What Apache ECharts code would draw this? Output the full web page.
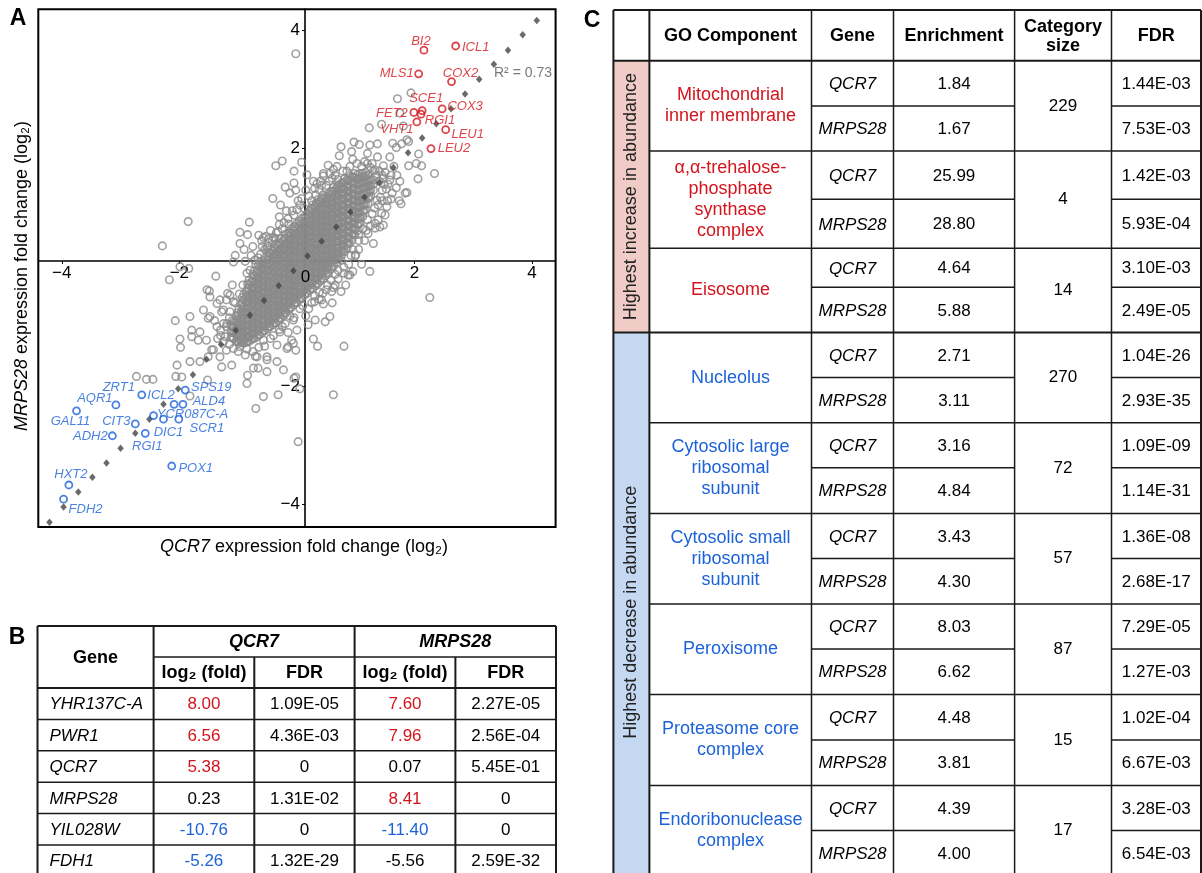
<!DOCTYPE html>
<html>
<head>
<meta charset="utf-8">
<title>QCR7 vs MRPS28 expression</title>
<script src="https://cdn.jsdelivr.net/npm/echarts@6.0.0/dist/echarts.min.js"></script>
<style>
html, body { margin: 0; padding: 0; background: #fff; }
#main { width: 1202px; height: 873px; }
</style>
</head>
<body>
<div id="main"></div>
<script>
// ---- panel A data (log2 fold change, QCR7 on x, MRPS28 on y) ----
// dense core, read column by column: [QCR7, [MRPS28 values]]
var coreColumns = [
    [-1.12, [-1.17, -1.07, -0.98]],
    [-1.075, [-1.2, -1.11, -1.02, -0.92]],
    [-1.03, [-1.24, -1.13, -1.04, -0.93, -0.82]],
    [-0.99, [-1.27, -1.2, -1.1, -1.01, -0.91, -0.81, -0.71]],
    [-0.95, [-1.25, -1.16, -1.06, -0.97, -0.86, -0.76, -0.63]],
    [-0.905, [-1.28, -1.22, -1.13, -1.03, -0.94, -0.85, -0.75, -0.66, -0.55, -0.46]],
    [-0.86, [-1.26, -1.18, -1.08, -0.99, -0.9, -0.8, -0.71, -0.6, -0.5, -0.41]],
    [-0.815, [-1.25, -1.17, -1.08, -0.98, -0.89, -0.79, -0.69, -0.59, -0.5, -0.4, -0.3, -0.22]],
    [-0.77, [-1.22, -1.12, -1.03, -0.94, -0.84, -0.74, -0.64, -0.55, -0.44, -0.35, -0.25]],
    [-0.725, [-1.2, -1.12, -1.03, -0.94, -0.84, -0.74, -0.64, -0.55, -0.45, -0.36, -0.25, -0.15, -0.06]],
    [-0.68, [-1.17, -1.08, -0.98, -0.89, -0.79, -0.69, -0.6, -0.5, -0.41, -0.3, -0.2, -0.1]],
    [-0.635, [-1.14, -1.05, -0.96, -0.86, -0.77, -0.67, -0.57, -0.48, -0.38, -0.28, -0.19, -0.09, 0.01, 0.09]],
    [-0.59, [-1.1, -1.0, -0.91, -0.81, -0.72, -0.62, -0.52, -0.43, -0.33, -0.24, -0.14, -0.04, 0.06]],
    [-0.545, [-1.07, -0.99, -0.9, -0.8, -0.71, -0.61, -0.52, -0.42, -0.33, -0.23, -0.13, -0.03, 0.07, 0.16]],
    [-0.5, [-1.04, -0.95, -0.85, -0.76, -0.66, -0.57, -0.47, -0.38, -0.28, -0.18, -0.08, 0.02, 0.12]],
    [-0.455, [-1.0, -0.92, -0.83, -0.73, -0.64, -0.54, -0.45, -0.35, -0.25, -0.16, -0.06, 0.04, 0.14, 0.23, 0.3]],
    [-0.41, [-0.97, -0.88, -0.78, -0.69, -0.59, -0.5, -0.4, -0.3, -0.21, -0.11, -0.01, 0.09, 0.18, 0.28]],
    [-0.365, [-0.94, -0.85, -0.75, -0.66, -0.56, -0.47, -0.37, -0.28, -0.18, -0.08, 0.01, 0.11, 0.21, 0.31, 0.39]],
    [-0.32, [-0.9, -0.8, -0.71, -0.61, -0.52, -0.42, -0.33, -0.23, -0.13, -0.04, 0.06, 0.16, 0.26, 0.36]],
    [-0.275, [-0.86, -0.77, -0.67, -0.58, -0.48, -0.39, -0.29, -0.19, -0.1, 0.0, 0.1, 0.2, 0.29, 0.39, 0.48]],
    [-0.23, [-0.81, -0.72, -0.62, -0.53, -0.43, -0.34, -0.24, -0.14, -0.05, 0.05, 0.15, 0.24, 0.34, 0.44]],
    [-0.185, [-0.77, -0.68, -0.58, -0.49, -0.39, -0.3, -0.2, -0.1, -0.01, 0.09, 0.19, 0.29, 0.38, 0.48, 0.56]],
    [-0.14, [-0.72, -0.63, -0.53, -0.44, -0.34, -0.25, -0.15, -0.05, 0.04, 0.14, 0.24, 0.33, 0.43, 0.52, 0.58]],
    [-0.095, [-0.68, -0.59, -0.49, -0.4, -0.3, -0.21, -0.11, -0.01, 0.09, 0.18, 0.28, 0.38, 0.47, 0.57, 0.65]],
    [-0.05, [-0.63, -0.54, -0.44, -0.35, -0.25, -0.16, -0.06, 0.04, 0.13, 0.23, 0.33, 0.42, 0.52, 0.61, 0.69]],
    [-0.005, [-0.6, -0.51, -0.41, -0.32, -0.22, -0.13, -0.03, 0.07, 0.17, 0.26, 0.36, 0.46, 0.55, 0.65, 0.74]],
    [0.04, [-0.55, -0.46, -0.36, -0.27, -0.17, -0.08, 0.02, 0.12, 0.21, 0.31, 0.41, 0.5, 0.6, 0.69, 0.78]],
    [0.085, [-0.52, -0.43, -0.33, -0.24, -0.14, -0.05, 0.05, 0.15, 0.25, 0.34, 0.44, 0.54, 0.63, 0.73, 0.82]],
    [0.13, [-0.47, -0.38, -0.28, -0.19, -0.09, 0.0, 0.1, 0.2, 0.29, 0.39, 0.49, 0.58, 0.68, 0.77, 0.86]],
    [0.175, [-0.44, -0.35, -0.25, -0.16, -0.06, 0.04, 0.13, 0.23, 0.33, 0.42, 0.52, 0.62, 0.71, 0.81, 0.9]],
    [0.22, [-0.39, -0.3, -0.2, -0.11, -0.01, 0.08, 0.18, 0.28, 0.37, 0.47, 0.57, 0.66, 0.76, 0.85, 0.95]],
    [0.265, [-0.36, -0.27, -0.17, -0.08, 0.02, 0.12, 0.21, 0.31, 0.41, 0.5, 0.6, 0.7, 0.79, 0.89, 0.98, 1.05]],
    [0.31, [-0.31, -0.22, -0.12, -0.03, 0.07, 0.16, 0.26, 0.36, 0.45, 0.55, 0.65, 0.74, 0.84, 0.93, 1.03]],
    [0.355, [-0.28, -0.19, -0.09, 0.0, 0.1, 0.2, 0.29, 0.39, 0.49, 0.58, 0.68, 0.78, 0.87, 0.97, 1.06, 1.14]],
    [0.4, [-0.23, -0.14, -0.04, 0.05, 0.15, 0.24, 0.34, 0.44, 0.53, 0.63, 0.73, 0.82, 0.92, 1.01, 1.11]],
    [0.445, [-0.2, -0.1, 0.0, 0.09, 0.19, 0.29, 0.38, 0.48, 0.58, 0.67, 0.77, 0.87, 0.96, 1.06, 1.15, 1.22]],
    [0.49, [-0.14, -0.05, 0.05, 0.14, 0.24, 0.33, 0.43, 0.53, 0.62, 0.72, 0.82, 0.91, 1.01, 1.1, 1.19]],
    [0.535, [-0.1, 0.0, 0.1, 0.19, 0.29, 0.39, 0.48, 0.58, 0.68, 0.77, 0.87, 0.97, 1.06, 1.16, 1.24]],
    [0.58, [-0.03, 0.07, 0.16, 0.26, 0.35, 0.45, 0.55, 0.64, 0.74, 0.84, 0.93, 1.03, 1.12, 1.21, 1.28]],
    [0.625, [0.02, 0.12, 0.22, 0.31, 0.41, 0.51, 0.6, 0.7, 0.8, 0.89, 0.99, 1.09, 1.18, 1.28, 1.35]],
    [0.67, [0.08, 0.18, 0.27, 0.37, 0.46, 0.56, 0.66, 0.75, 0.85, 0.95, 1.04, 1.14, 1.23, 1.33]],
    [0.715, [0.14, 0.24, 0.33, 0.43, 0.53, 0.62, 0.72, 0.82, 0.91, 1.01, 1.11, 1.2, 1.3, 1.39]],
    [0.76, [0.2, 0.29, 0.39, 0.48, 0.58, 0.68, 0.77, 0.87, 0.97, 1.06, 1.16, 1.25, 1.35, 1.42]],
    [0.805, [0.26, 0.36, 0.45, 0.55, 0.65, 0.74, 0.84, 0.94, 1.03, 1.13, 1.23, 1.32, 1.42, 1.49]],
    [0.85, [0.32, 0.41, 0.51, 0.6, 0.7, 0.8, 0.89, 0.99, 1.09, 1.18, 1.28, 1.37, 1.47]],
    [0.895, [0.4, 0.49, 0.59, 0.69, 0.78, 0.88, 0.98, 1.07, 1.17, 1.27, 1.36, 1.46, 1.54]],
    [0.94, [0.46, 0.55, 0.65, 0.74, 0.84, 0.94, 1.03, 1.13, 1.23, 1.32, 1.42, 1.52]],
    [0.985, [0.55, 0.64, 0.74, 0.84, 0.93, 1.03, 1.13, 1.22, 1.32, 1.42, 1.51, 1.58]],
    [1.03, [0.62, 0.71, 0.81, 0.9, 1.0, 1.1, 1.19, 1.29, 1.39, 1.48, 1.56]],
    [1.075, [0.74, 0.83, 0.93, 1.03, 1.12, 1.22, 1.32, 1.41, 1.5, 1.58]],
    [1.12, [0.85, 0.94, 1.04, 1.14, 1.23, 1.33, 1.43, 1.52, 1.58]],
    [1.165, [0.97, 1.06, 1.16, 1.26, 1.35, 1.45, 1.54, 1.6]],
    [1.21, [1.07, 1.16, 1.26, 1.36, 1.45, 1.55]],
    [1.255, [1.2, 1.3, 1.39, 1.48]],
    [1.3, [1.3, 1.4, 1.47]],
    // second pass over the same blob, between the columns above
    [-1.10, [-1.19, -1.1, -1.0, -0.9]],
    [-1.01, [-1.25, -1.16, -1.06, -0.97, -0.87, -0.77]],
    [-0.93, [-1.27, -1.19, -1.09, -1.0, -0.9, -0.8, -0.7, -0.6, -0.51]],
    [-0.84, [-1.24, -1.15, -1.05, -0.96, -0.86, -0.76, -0.66, -0.56, -0.46, -0.36, -0.28]],
    [-0.75, [-1.19, -1.09, -1.0, -0.9, -0.8, -0.7, -0.6, -0.5, -0.4, -0.31, -0.21, -0.12]],
    [-0.66, [-1.13, -1.03, -0.94, -0.84, -0.74, -0.64, -0.55, -0.45, -0.35, -0.25, -0.15, -0.05, 0.04]],
    [-0.57, [-1.06, -0.97, -0.87, -0.77, -0.68, -0.58, -0.48, -0.39, -0.29, -0.19, -0.09, 0.01, 0.11]],
    [-0.48, [-1.0, -0.9, -0.81, -0.71, -0.61, -0.52, -0.42, -0.32, -0.23, -0.13, -0.03, 0.07, 0.17, 0.25]],
    [-0.39, [-0.93, -0.83, -0.74, -0.64, -0.54, -0.45, -0.35, -0.25, -0.16, -0.06, 0.04, 0.14, 0.23, 0.33]],
    [-0.30, [-0.85, -0.75, -0.66, -0.56, -0.46, -0.37, -0.27, -0.17, -0.08, 0.02, 0.12, 0.22, 0.31, 0.41]],
    [-0.21, [-0.77, -0.67, -0.58, -0.48, -0.38, -0.29, -0.19, -0.09, 0.0, 0.1, 0.2, 0.3, 0.39, 0.49]],
    [-0.12, [-0.68, -0.58, -0.49, -0.39, -0.29, -0.2, -0.1, 0.0, 0.09, 0.19, 0.29, 0.39, 0.48, 0.58]],
    [-0.03, [-0.59, -0.5, -0.4, -0.3, -0.21, -0.11, -0.01, 0.08, 0.18, 0.28, 0.38, 0.47, 0.57, 0.67]],
    [0.06, [-0.51, -0.42, -0.32, -0.22, -0.13, -0.03, 0.07, 0.16, 0.26, 0.36, 0.46, 0.55, 0.65, 0.75]],
    [0.15, [-0.43, -0.34, -0.24, -0.14, -0.05, 0.05, 0.15, 0.24, 0.34, 0.44, 0.54, 0.63, 0.73, 0.83]],
    [0.24, [-0.35, -0.26, -0.16, -0.06, 0.03, 0.13, 0.23, 0.32, 0.42, 0.52, 0.62, 0.71, 0.81, 0.91, 0.99]],
    [0.33, [-0.27, -0.18, -0.08, 0.02, 0.11, 0.21, 0.31, 0.4, 0.5, 0.6, 0.7, 0.79, 0.89, 0.99, 1.08]],
    [0.42, [-0.18, -0.09, 0.01, 0.11, 0.2, 0.3, 0.4, 0.49, 0.59, 0.69, 0.79, 0.88, 0.98, 1.08, 1.16]],
    [0.51, [-0.09, 0.0, 0.1, 0.2, 0.29, 0.39, 0.49, 0.58, 0.68, 0.78, 0.88, 0.97, 1.07, 1.17]],
    [0.60, [0.02, 0.12, 0.21, 0.31, 0.41, 0.5, 0.6, 0.7, 0.79, 0.89, 0.99, 1.08, 1.18, 1.27]],
    [0.69, [0.14, 0.24, 0.33, 0.43, 0.53, 0.62, 0.72, 0.82, 0.91, 1.01, 1.11, 1.2, 1.3, 1.37]],
    [0.78, [0.27, 0.37, 0.46, 0.56, 0.66, 0.75, 0.85, 0.95, 1.04, 1.14, 1.24, 1.33, 1.42]],
    [0.87, [0.41, 0.51, 0.6, 0.7, 0.8, 0.89, 0.99, 1.09, 1.18, 1.28, 1.38, 1.47]],
    [0.96, [0.56, 0.66, 0.75, 0.85, 0.95, 1.04, 1.14, 1.24, 1.33, 1.43, 1.52]],
    [1.05, [0.73, 0.83, 0.92, 1.02, 1.12, 1.21, 1.31, 1.41, 1.5]],
    [1.14, [0.95, 1.05, 1.14, 1.24, 1.34, 1.43, 1.52]],
    [1.23, [1.18, 1.28, 1.37, 1.46]]
];

// scattered genes around the core: [QCR7, MRPS28]
var outerGenes = [
    [-0.02, 3.60], [-0.36, 1.71], [-0.25, 1.79], [-0.05, 1.62], [-0.05, 1.42], [-0.41, 1.16],
    [-1.85, 0.77], [-2.29, 0.36], [-0.81, 0.76], [-0.97, 0.59], [-0.84, 0.55], [-0.97, 0.40],
    [-0.65, 0.54], [-0.57, 0.50], [-0.59, 0.35], [-0.51, 0.32], [-0.37, 0.48], [-0.22, 0.75],
    [-0.14, 0.73], [-1.05, 0.20], [-1.08, 0.09], [-0.66, 0.16], [-1.99, 0.01], [-1.84, -0.02],
    [1.94, 2.94], [1.71, 2.84], [1.75, 2.60], [1.81, 2.38], [1.23, 2.35], [1.44, 2.41],
    [1.90, 2.12], [1.78, 2.08], [1.69, 2.02], [1.37, 2.08], [1.24, 2.06], [1.06, 2.07],
    [0.97, 2.11], [0.75, 2.03], [0.72, 1.88], [0.93, 1.95], [1.20, 1.92], [1.37, 1.86],
    [1.58, 1.86], [2.07, 1.91], [2.03, 1.75], [2.12, 1.71], [1.90, 1.71], [2.34, 1.58],
    [2.06, 1.49], [1.84, 1.25], [1.74, 1.12], [1.77, 1.07], [1.52, 1.32], [1.69, 1.34],
    [1.58, 1.47], [1.47, 1.50], [1.33, 1.64], [1.47, 1.71], [0.68, 1.70], [0.56, 1.58],
    [0.45, 1.58], [0.34, 1.41], [0.17, 1.56], [1.36, 1.13], [1.53, 1.02], [1.50, 0.88],
    [1.33, 0.74], [1.33, 0.66], [1.38, 0.80], [1.21, 0.57], [1.00, 0.21], [1.44, 0.91],
    [0.08, 1.77], [0.08, 1.16], [0.00, 0.97], [0.30, 1.33], [0.45, 1.54], [0.53, 1.72],
    [1.63, 2.09], [1.87, 2.15], [1.87, 1.26], [1.54, 1.12], [1.47, 0.71], [1.41, 0.68],
    [0.99, 0.19], [1.24, -0.07], [0.90, -0.13], [0.75, -0.41], [0.59, -0.41], [0.44, -0.44],
    [0.38, -0.54], [0.56, -0.83], [0.48, -0.92], [0.31, -0.89], [2.26, -0.51], [0.28, -1.21],
    [0.35, -1.33], [0.80, -1.33], [0.62, -2.15], [0.05, -2.05], [-0.02, -1.85], [-0.32, -2.15],
    [-0.57, -2.18], [-0.70, -2.38], [-0.85, -1.96], [-0.84, -1.82], [-0.51, -1.76], [-0.66, -1.70],
    [-0.15, -1.34], [-0.34, -1.31], [-0.51, -1.51], [-0.71, -1.50], [-1.11, -1.65], [-1.28, -1.68],
    [-1.31, -1.51], [-1.45, -1.39], [-1.51, -1.51], [-1.68, -1.23], [-1.79, -1.06], [-2.07, -0.90],
    [-1.99, -1.21], [-1.98, -1.35], [-2.04, -1.65], [-1.82, -1.59], [-1.96, -1.85], [-2.45, -1.89],
    [-1.52, -1.90], [-1.49, -0.40], [-1.48, -0.50], [-1.18, -0.44], [-1.36, -0.61], [-1.28, -0.75],
    [-1.51, -0.86], [-1.30, -1.06], [-1.22, -1.17], [-2.17, -0.21], [-1.38, -0.15], [-0.53, 0.52],
    [-2.73, -1.84], [-2.56, -1.89], [-2.06, -1.84], [-1.82, -2.17], [0.02, -2.94], [-1.65, -1.59],
    [0.95, -0.07], [0.87, -0.13], [0.62, -0.34], [0.83, -0.30], [0.45, -0.62], [0.30, -0.58],
    [0.19, -0.97], [-0.02, -1.40], [-0.06, -1.28], [-0.05, -1.87], [-1.53, -0.38], [-1.14, -0.47],
    [-1.08, -0.58], [-1.14, -0.75], [-0.09, -1.23], [-0.17, -1.37], [-0.57, -1.23], [-0.97, -1.34],
    [-1.08, -1.37], [-0.88, -1.48], [-0.68, -1.51], [-0.51, -1.56], [-0.34, -1.59], [-0.74, -1.70],
    [-0.23, -1.73], [-0.29, -1.09], [-0.20, -0.95], [-0.06, -0.89], [0.00, -1.06], [-1.42, -1.39],
    [-1.65, -1.09], [-1.54, -1.23], [-1.36, -1.00], [-1.19, -0.95], [-1.48, -0.83], [-1.25, -0.72],
    [-1.31, -0.55], [-1.59, -0.72], [-1.82, -0.83], [-1.79, -1.17], [-0.75, 0.35], [-0.45, 0.62],
    [-0.30, 0.85], [-0.18, 0.95], [-0.28, 1.05], [-0.12, 1.25], [-0.60, 0.45], [-0.90, 0.30],
    [-0.20, 1.35], [0.70, -0.20], [1.05, 0.30], [1.15, 0.45], [1.10, 0.05], [1.30, 0.40],
    [0.60, -0.60], [0.20, -0.70], [-0.85, -0.10], [-0.72, 0.12], [-0.55, 0.30], [-0.42, 0.45],
    [-0.32, 0.60], [-0.08, 0.95], [0.05, 1.05], [0.20, 1.20], [0.32, 1.22], [0.42, 1.38],
    [0.60, 1.50], [0.78, 1.62], [0.90, 1.70], [1.02, 1.75], [1.15, 1.78], [1.28, 1.75],
    [-0.65, -1.35], [-0.45, -1.20], [-0.30, -1.05], [-0.12, -0.82], [0.05, -0.70], [0.25, -0.60],
    [0.38, -0.42], [0.52, -0.30], [0.65, -0.12], [0.80, 0.00], [0.92, 0.20], [1.05, 0.45],
    [1.18, 0.62], [1.28, 0.90], [1.38, 1.05], [1.45, 1.30],
    [-1.05, -0.60], [-0.98, -0.45], [-0.92, -0.30], [-0.80, -0.05], [-0.70, 0.05], [-0.62, 0.22],
    [-0.50, 0.35], [-0.40, 0.50], [-0.35, 0.58], [-0.25, 0.65], [-0.15, 0.82], [-0.05, 0.88],
    [0.02, 1.12], [0.12, 1.00], [0.15, 1.30], [0.25, 1.12], [0.38, 1.30], [0.50, 1.38],
    [0.55, 1.45], [0.65, 1.55], [0.70, 1.48], [0.85, 1.62], [0.95, 1.82], [1.10, 1.70],
    [1.20, 1.75], [1.25, 1.68], [0.62, 1.65], [0.40, 1.45], [0.28, 1.45], [-0.02, 1.30],
    [-0.30, 0.72], [-0.48, 0.48], [-0.78, 0.20], [-0.88, 0.10], [-1.10, -0.30], [-1.20, -0.55],
    [-1.15, -1.30], [-1.00, -1.42], [-0.85, -1.38], [-0.75, -1.42], [-0.55, -1.33], [-0.40, -1.15],
    [-0.25, -1.00], [-0.15, -1.10], [-0.05, -0.85], [0.10, -0.65], [0.15, -0.82], [0.30, -0.48],
    [0.42, -0.55], [0.50, -0.38], [0.58, -0.22], [0.70, -0.05], [0.75, 0.12], [0.88, 0.05],
    [0.95, 0.30], [1.05, 0.55], [1.12, 0.65], [1.20, 0.80], [1.25, 0.70], [1.32, 1.00],
    [1.42, 1.18], [1.48, 1.40], [1.40, 1.45], [1.35, 1.55], [0.80, -0.10], [0.65, -0.30],
    [-1.25, -1.25], [-1.30, -1.15], [-1.20, -1.00], [-1.15, -0.85], [-1.25, -0.95], [-1.35, -1.20],
    [-1.40, -0.90], [-1.20, -1.40], [1.30, 1.62], [1.40, 1.62], [1.45, 1.55], [1.50, 1.60],
    [1.55, 1.40], [1.60, 1.55], [1.62, 1.25], [1.65, 1.70], [1.70, 1.55], [1.75, 1.45],
    [1.60, 1.15], [1.45, 1.12]
];

// regression points (dark diamonds)
var fitQCR7 = [-4.21, -3.97, -3.72, -3.48, -3.24, -3.00, -2.75, -2.51, -2.27, -2.02, -1.77, -1.54,
    -1.29, -1.04, -0.80, -0.56, -0.31, -0.06, 0.18, 0.42, 0.67, 0.91, 1.15, 1.40, 1.64, 1.89,
    2.13, 2.37, 2.62, 2.86, 3.10, 3.35, 3.59, 3.84, 4.08];
var fitMRPS28 = [-4.30, -4.04, -3.79, -3.54, -3.30, -3.05, -2.80, -2.56, -2.31, -2.05, -1.81, -1.55,
    -1.30, -1.06, -0.81, -0.56, -0.31, -0.06, 0.19, 0.44, 0.68, 0.93, 1.18, 1.43, 1.68, 1.93,
    2.18, 2.42, 2.67, 2.92, 3.17, 3.42, 3.66, 3.92, 4.16];
var rSquared = 0.73;

// highlighted genes
var upGenes = ['BI2', 'ICL1', 'MLS1', 'COX2', 'SCE1', 'COX3', 'FET2', 'RGI1', 'VHT1', 'LEU1', 'LEU2'];
var upQCR7 = [2.16, 2.70, 2.07, 2.63, 2.13, 2.47, 1.99, 2.11, 2.04, 2.53, 2.28];
var upMRPS28 = [3.66, 3.73, 3.26, 3.13, 2.64, 2.67, 2.61, 2.58, 2.45, 2.32, 2.00];
var downGenes = ['ZRT1', 'AQR1', 'GAL11', 'SPS19', 'ICL2', 'ALD4', 'YCR087C-A', 'DIC1', 'SCR1',
    'CIT3', 'RGI1', 'ADH2', 'POX1', 'HXT2', 'FDH2'];
var downQCR7 = [-2.64, -3.08, -3.75, -1.90, -2.09, -1.94, -2.44, -2.27, -2.01, -2.75, -2.58, -3.14, -2.13, -3.88, -3.97];
var downMRPS28 = [-2.15, -2.32, -2.42, -2.07, -2.31, -2.31, -2.50, -2.56, -2.56, -2.64, -2.80, -2.84, -3.35, -3.67, -3.91];

// ---- panel B data ----
var tblGenes = ['YHR137C-A', 'PWR1', 'QCR7', 'MRPS28', 'YIL028W', 'FDH1'];
var qcr7Fold = ['8.00', '6.56', '5.38', '0.23', '-10.76', '-5.26'];
var qcr7Fdr = ['1.09E-05', '4.36E-03', '0', '1.31E-02', '0', '1.32E-29'];
var mrps28Fold = ['7.60', '7.96', '0.07', '8.41', '-11.40', '-5.56'];
var mrps28Fdr = ['2.27E-05', '2.56E-04', '5.45E-01', '0', '0', '2.59E-32'];
var qcr7Change = ['up', 'up', 'up', '', 'down', 'down'];
var mrps28Change = ['up', 'up', '', 'up', 'down', ''];

// ---- panel C data ----
var goTerms = ['Mitochondrial\ninner membrane', 'α,α-trehalose-\nphosphate\nsynthase\ncomplex', 'Eisosome',
    'Nucleolus', 'Cytosolic large\nribosomal\nsubunit', 'Cytosolic small\nribosomal\nsubunit',
    'Peroxisome', 'Proteasome core\ncomplex', 'Endoribonuclease\ncomplex'];
var goChange = ['up', 'up', 'up', 'down', 'down', 'down', 'down', 'down', 'down'];
var enrichQCR7 = [1.84, 25.99, 4.64, 2.71, 3.16, 3.43, 8.03, 4.48, 4.39];
var enrichMRPS28 = [1.67, 28.80, 5.88, 3.11, 4.84, 4.30, 6.62, 3.81, 4.00];
var categorySize = [229, 4, 14, 270, 72, 57, 87, 15, 17];
var goFdrQCR7 = ['1.44E-03', '1.42E-03', '3.10E-03', '1.04E-26', '1.09E-09', '1.36E-08', '7.29E-05', '1.02E-04', '3.28E-03'];
var goFdrMRPS28 = ['7.53E-03', '5.93E-04', '2.49E-05', '2.93E-35', '1.14E-31', '2.68E-17', '1.27E-03', '6.67E-03', '6.54E-03'];

// ---- styles / layout ----
var FONT = '"Liberation Sans", Arial, Helvetica, sans-serif';
var RED = '#d4141c';
var BLUE = '#1c62d9';
var upLabelOffset = [[-3, -9], [20, 1], [-22, 0], [9, -8], [4, -12], [23, -2], [-22, 1], [19, 6], [-20, 7], [22, 5], [23, 0]];
var downLabelOffset = [[-23, -7], [-21, -7], [-6, 11], [26, -3], [-13, -9], [26, -3], [39, -1], [5, 13], [28, 9],
    [-19, -2], [2, 13], [-22, 1], [24, 2], [2, -11], [22, 10]];

var myChart = echarts.init(document.getElementById('main'));

var otherGenes = [];
coreColumns.forEach(function (col) {
    col[1].forEach(function (y) { otherGenes.push([col[0], y]); });
});
outerGenes.forEach(function (p) { otherGenes.push(p); });

var fitData = fitQCR7.map(function (x, i) { return [x, fitMRPS28[i]]; });

function labelled(names, xs, ys, offsets) {
    return names.map(function (n, i) {
        return { name: n, value: [xs[i], ys[i]], label: { offset: offsets[i] } };
    });
}

function minus(v) { return (v < 0 ? '\u2212' : '') + Math.abs(v); }

// graphic helpers
function ln(x1, y1, x2, y2, w) {
    return { type: 'line', silent: true, z: 10, shape: { x1: x1, y1: y1, x2: x2, y2: y2 },
        style: { stroke: '#1a1a1a', lineWidth: w || 1.5 } };
}
function tx(x, y, str, o) {
    o = o || {};
    return { type: 'text', silent: true, z: 11, x: x, y: y, rotation: o.rot || 0,
        style: { text: str, fill: o.color || '#000', fontSize: o.size || 17, fontFamily: FONT,
            fontWeight: o.bold ? 'bold' : 'normal', fontStyle: o.italic ? 'italic' : 'normal',
            align: o.align || 'center', verticalAlign: 'middle', lineHeight: o.lh || 20, rich: o.rich } };
}
function changeColor(c) { return c === 'up' ? RED : (c === 'down' ? BLUE : '#000'); }

var graphics = [];
// panel letters and plot annotations
graphics.push(tx(18, 19, 'A', { size: 23, bold: true }));
graphics.push(tx(17, 638, 'B', { size: 23, bold: true }));
graphics.push(tx(592, 21, 'C', { size: 23, bold: true }));
graphics.push(tx(305.5, 277, '0', { size: 17 }));
graphics.push(tx(523, 73, 'R\u00b2 = ' + rSquared.toFixed(2), { size: 14, color: '#7a7a7a' }));
graphics.push(tx(304, 547, '{i|QCR7} expression fold change (log\u2082)', { size: 18,
    rich: { i: { fontStyle: 'italic', fontSize: 18, fontFamily: FONT } } }));
graphics.push(tx(22, 276, '{i|MRPS28} expression fold change (log\u2082)', { size: 18, rot: Math.PI / 2,
    rich: { i: { fontStyle: 'italic', fontSize: 18, fontFamily: FONT } } }));

// ---- table B ----
var bx = [37.5, 153.6, 254.3, 354.6, 455.4, 556];
var bTop = 626, bMid = 657, bHead = 688, bRowH = 31.4, bEnd = 890;
graphics.push(ln(bx[0], bTop, bx[5], bTop, 2));
graphics.push(ln(bx[1], bMid, bx[5], bMid));
graphics.push(ln(bx[0], bHead, bx[5], bHead, 2));
for (var r = 1; r <= tblGenes.length; r++) {
    graphics.push(ln(bx[0], bHead + r * bRowH, bx[5], bHead + r * bRowH));
}
graphics.push(ln(bx[0], bTop, bx[0], bEnd, 2));
graphics.push(ln(bx[5], bTop, bx[5], bEnd, 2));
graphics.push(ln(bx[1], bTop, bx[1], bEnd, 2));
graphics.push(ln(bx[3], bTop, bx[3], bEnd, 2));
graphics.push(ln(bx[2], bMid, bx[2], bEnd, 2));
graphics.push(ln(bx[4], bMid, bx[4], bEnd, 2));
graphics.push(tx((bx[0] + bx[1]) / 2, (bTop + bHead) / 2 + 1, 'Gene', { size: 18, bold: true }));
graphics.push(tx((bx[1] + bx[3]) / 2, (bTop + bMid) / 2 + 1, 'QCR7', { size: 18, bold: true, italic: true }));
graphics.push(tx((bx[3] + bx[5]) / 2, (bTop + bMid) / 2 + 1, 'MRPS28', { size: 18, bold: true, italic: true }));
[1, 3].forEach(function (c) {
    graphics.push(tx((bx[c] + bx[c + 1]) / 2, (bMid + bHead) / 2 + 1, 'log\u2082 (fold)', { size: 18, bold: true }));
    graphics.push(tx((bx[c + 1] + bx[c + 2]) / 2, (bMid + bHead) / 2 + 1, 'FDR', { size: 18, bold: true }));
});
tblGenes.forEach(function (g, i) {
    var y = bHead + i * bRowH + bRowH / 2 + 1;
    graphics.push(tx(bx[0] + 12, y, g, { italic: true, align: 'left' }));
    graphics.push(tx((bx[1] + bx[2]) / 2, y, qcr7Fold[i], { color: changeColor(qcr7Change[i]) }));
    graphics.push(tx((bx[2] + bx[3]) / 2, y, qcr7Fdr[i]));
    graphics.push(tx((bx[3] + bx[4]) / 2, y, mrps28Fold[i], { color: changeColor(mrps28Change[i]) }));
    graphics.push(tx((bx[4] + bx[5]) / 2, y, mrps28Fdr[i]));
});

// ---- table C ----
var cx = [613.4, 649.4, 811.5, 893.5, 1014.6, 1111.5, 1201];
var cTop = 10, cHead = 60.7, cEnd = 892;
var cEdges = [60.7, 151, 248.3, 332.5, 422.7, 513.4, 604, 694.4, 785.4, 875.5];
var cSplit = [106, 199.3, 287.3, 377.4, 467.7, 558.4, 649, 740, 830.4];
graphics.push({ type: 'rect', silent: true, z: 9, shape: { x: cx[0], y: cHead, width: cx[1] - cx[0], height: cEdges[3] - cHead },
    style: { fill: '#efccc5' } });
graphics.push({ type: 'rect', silent: true, z: 9, shape: { x: cx[0], y: cEdges[3], width: cx[1] - cx[0], height: cEnd - cEdges[3] },
    style: { fill: '#c5d8f1' } });
graphics.push(ln(cx[0], cTop, cx[6], cTop, 2));
graphics.push(ln(cx[0], cHead, cx[6], cHead, 2));
graphics.push(ln(cx[0], cEdges[3], cx[6], cEdges[3], 2));
cEdges.forEach(function (y, i) { if (i > 0 && i !== 3) graphics.push(ln(cx[1], y, cx[6], y)); });
cSplit.forEach(function (y) {
    graphics.push(ln(cx[2], y, cx[4], y));
    graphics.push(ln(cx[5], y, cx[6], y));
});
cx.forEach(function (x, i) { graphics.push(ln(x, cTop, x, cEnd, (i === 0 || i === 1 || i === 6) ? 2 : 1.5)); });

var hy = (cTop + cHead) / 2 + 1;
graphics.push(tx((cx[1] + cx[2]) / 2, hy, 'GO Component', { size: 18, bold: true }));
graphics.push(tx((cx[2] + cx[3]) / 2, hy, 'Gene', { size: 18, bold: true }));
graphics.push(tx((cx[3] + cx[4]) / 2, hy, 'Enrichment', { size: 18, bold: true }));
graphics.push(tx((cx[4] + cx[5]) / 2, hy, 'Category\nsize', { size: 18, bold: true, lh: 19 }));
graphics.push(tx((cx[5] + cx[6]) / 2, hy, 'FDR', { size: 18, bold: true }));
graphics.push(tx((cx[0] + cx[1]) / 2, (cHead + cEdges[3]) / 2, 'Highest increase in abundance', { size: 18, rot: Math.PI / 2, color: '#222' }));
graphics.push(tx((cx[0] + cx[1]) / 2, (cEdges[3] + cEnd) / 2, 'Highest decrease in abundance', { size: 18, rot: Math.PI / 2, color: '#222' }));

goTerms.forEach(function (t, i) {
    var top = cEdges[i], bot = cEdges[i + 1], mid = cSplit[i];
    var r1 = (top + mid) / 2 + 1, r2 = (mid + bot) / 2 + 1;
    graphics.push(tx((cx[1] + cx[2]) / 2, (top + bot) / 2, t, { size: 18, lh: 21, color: changeColor(goChange[i]) }));
    graphics.push(tx((cx[2] + cx[3]) / 2, r1, 'QCR7', { italic: true }));
    graphics.push(tx((cx[2] + cx[3]) / 2, r2, 'MRPS28', { italic: true }));
    graphics.push(tx((cx[3] + cx[4]) / 2, r1, enrichQCR7[i].toFixed(2)));
    graphics.push(tx((cx[3] + cx[4]) / 2, r2, enrichMRPS28[i].toFixed(2)));
    graphics.push(tx((cx[4] + cx[5]) / 2, (top + bot) / 2, String(categorySize[i])));
    graphics.push(tx((cx[5] + cx[6]) / 2, r1, goFdrQCR7[i]));
    graphics.push(tx((cx[5] + cx[6]) / 2, r2, goFdrMRPS28[i]));
});

// the axes cross a little above/right of the origin, as in the source figure
var gridLeft = 38.3, gridTop = 9.2, gridW = 517.3, gridH = 517.9;
var crossX = 305, crossY = 261;

var option = {
    animation: false,
    backgroundColor: '#fff',
    textStyle: { fontFamily: FONT },
    grid: {
        left: gridLeft, top: gridTop, width: gridW, height: gridH,
        show: true, borderColor: '#000', borderWidth: 2, backgroundColor: 'transparent'
    },
    xAxis: {
        type: 'value', min: -4.4, max: 4.4,
        position: 'bottom',
        offset: -(gridTop + gridH - crossY),
        axisLine: { onZero: false, lineStyle: { color: '#000', width: 1.6 } },
        axisTick: { customValues: [-4, -2, 2, 4], length: 3, lineStyle: { color: '#000' } },
        axisLabel: { customValues: [-4, -2, 2, 4], fontSize: 17, color: '#000', margin: 4, formatter: minus },
        splitLine: { show: false }
    },
    yAxis: {
        type: 'value', min: -4.38, max: 4.35,
        position: 'left',
        offset: -(crossX - gridLeft),
        axisLine: { onZero: false, lineStyle: { color: '#000', width: 1.6 } },
        axisTick: { customValues: [-4, -2, 2, 4], length: 3, lineStyle: { color: '#000' } },
        axisLabel: { customValues: [-4, -2, 2, 4], fontSize: 17, color: '#000', margin: 5, formatter: minus },
        splitLine: { show: false }
    },
    series: [{
        name: 'genes',
        type: 'scatter',
        symbol: 'circle',
        symbolSize: 7.5,
        silent: true,
        itemStyle: { color: 'rgba(255,255,255,0)', borderColor: '#8a8a8a', borderWidth: 1.6 },
        data: otherGenes,
        z: 2
    }, {
        name: 'fit',
        type: 'scatter',
        symbol: 'diamond',
        symbolSize: [6.5, 7.5],
        silent: true,
        itemStyle: { color: '#454545' },
        data: fitData,
        z: 3
    }, {
        name: 'up',
        type: 'scatter',
        symbol: 'circle',
        symbolSize: 7,
        silent: true,
        itemStyle: { color: 'rgba(255,255,255,0)', borderColor: RED, borderWidth: 1.8 },
        label: { show: true, position: 'inside', formatter: '{b}', color: RED, fontSize: 13, fontStyle: 'italic' },
        data: labelled(upGenes, upQCR7, upMRPS28, upLabelOffset),
        z: 4
    }, {
        name: 'down',
        type: 'scatter',
        symbol: 'circle',
        symbolSize: 7,
        silent: true,
        itemStyle: { color: 'rgba(255,255,255,0)', borderColor: BLUE, borderWidth: 1.8 },
        label: { show: true, position: 'inside', formatter: '{b}', color: BLUE, fontSize: 13, fontStyle: 'italic' },
        data: labelled(downGenes, downQCR7, downMRPS28, downLabelOffset),
        z: 4
    }],
    graphic: graphics
};

myChart.setOption(option);

window.onresize = function () {
    myChart.resize();
};
</script>
</body>
</html>
